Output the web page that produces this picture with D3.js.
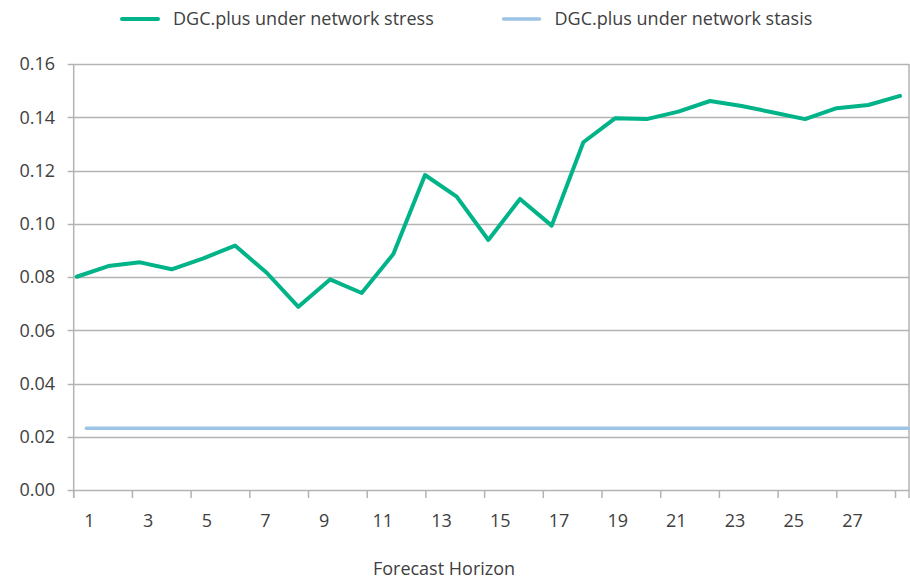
<!DOCTYPE html>
<html>
<head>
<meta charset="utf-8">
<script src="https://cdn.jsdelivr.net/npm/d3@7"></script>
<style>
  body { margin: 0; background: #fff; }
  text { font-family: "Open Sans", sans-serif; fill: #404040; }
</style>
</head>
<body>
<script>
var width = 910;
var height = 581;

// categories on the horizontal axis (the chart is cut at the right edge)
var categories = d3.range(1, 30);
var tickLabels = [1, 3, 5, 7, 9, 11, 13, 15, 17, 19, 21, 23, 25, 27];
var yTicks = [0, 0.02, 0.04, 0.06, 0.08, 0.10, 0.12, 0.14, 0.16];

// series values
var horizon = d3.range(1, 28);
var stress = [0.0801, 0.0841, 0.0855, 0.0829, 0.0870, 0.0918, 0.0816, 0.0688, 0.0791, 0.0740,
              0.0886, 0.1183, 0.1102, 0.0939, 0.1093, 0.0993, 0.1306, 0.1396, 0.1393, 0.1421,
              0.1461, 0.1442, 0.1418, 0.1393, 0.1434, 0.1446, 0.1480];
var stasisValue = 0.0232;
var stasis = categories.map(function () { return stasisValue; });

var seriesNames = ["DGC.plus under network stress", "DGC.plus under network stasis"];
var colors = ["#00b388", "#9dc3e6"];

var plotLeft = 73.7, plotTop = 64, plotBottom = 490, plotRight = 909;
var step = 29.35;
var fontSize = 18;

var svg = d3.select("body").append("svg").attr("width", width).attr("height", height);

var y = d3.scaleLinear().domain([0, 0.16]).range([plotBottom, plotTop]);
var xBand = d3.scaleBand().domain(categories).range([plotLeft, plotLeft + step * categories.length]);
// the stress line sits on its own x scale in the original chart
var xLine = d3.scaleLinear().domain([1, 27]).range([76.7, 900]);

// gridlines
svg.append("g").selectAll("line").data(yTicks).enter().append("line")
    .attr("x1", plotLeft - 6).attr("x2", plotRight)
    .attr("y1", function (d) { return Math.round(y(d)) + 0.5; })
    .attr("y2", function (d) { return Math.round(y(d)) + 0.5; })
    .attr("stroke", "#b3b3b3").attr("stroke-width", 1.5);

// y labels
svg.append("g").selectAll("text").data(yTicks).enter().append("text")
    .attr("x", 55).attr("y", function (d) { return y(d); })
    .attr("dy", "0.36em")
    .attr("text-anchor", "end")
    .attr("font-size", fontSize)
    .text(function (d) { return d3.format(".2f")(d); });

// left and right borders
svg.append("line").attr("x1", plotLeft).attr("x2", plotLeft).attr("y1", plotTop).attr("y2", plotBottom + 8)
    .attr("stroke", "#b3b3b3").attr("stroke-width", 1.5);
svg.append("line").attr("x1", plotRight).attr("x2", plotRight).attr("y1", plotTop).attr("y2", plotBottom + 8)
    .attr("stroke", "#b3b3b3").attr("stroke-width", 1.5);

// x ticks between every second category
var tickCats = categories.filter(function (c) { return c % 2 === 1; });
svg.append("g").selectAll("line").data(tickCats).enter().append("line")
    .attr("x1", function (d) { return xBand(d); })
    .attr("x2", function (d) { return xBand(d); })
    .attr("y1", plotBottom).attr("y2", plotBottom + 8)
    .attr("stroke", "#b3b3b3").attr("stroke-width", 1.5);

svg.append("g").selectAll("text").data(tickLabels).enter().append("text")
    .attr("x", function (d) { return xBand(d) + xBand.bandwidth() / 2 + 1; })
    .attr("y", 527)
    .attr("text-anchor", "middle")
    .attr("font-size", fontSize)
    .text(function (d) { return d; });

svg.append("text").attr("x", 444).attr("y", 575)
    .attr("text-anchor", "middle").attr("font-size", fontSize)
    .text("Forecast Horizon");

// stasis line
svg.append("path").datum(stasis)
    .attr("fill", "none").attr("stroke", colors[1]).attr("stroke-width", 3.5)
    .attr("stroke-linecap", "round")
    .attr("d", d3.line()
        .x(function (d, i) { return xBand(categories[i]) + xBand.bandwidth() / 2 - 2; })
        .y(function (d) { return y(d); }));

// stress line
svg.append("path").datum(stress)
    .attr("fill", "none").attr("stroke", colors[0]).attr("stroke-width", 4)
    .attr("stroke-linejoin", "round").attr("stroke-linecap", "round")
    .attr("d", d3.line()
        .x(function (d, i) { return xLine(horizon[i]); })
        .y(function (d) { return y(d); }));

// legend
var legendX = [122, 503.5];
var legend = svg.append("g").selectAll("g").data(seriesNames).enter().append("g")
    .attr("transform", function (d, i) { return "translate(" + legendX[i] + ",19)"; });
legend.append("line").attr("x1", 0).attr("x2", 36).attr("y1", 0).attr("y2", 0)
    .attr("stroke", function (d, i) { return colors[i]; })
    .attr("stroke-width", function (d, i) { return i === 0 ? 4 : 3.5; })
    .attr("stroke-linecap", "round");
legend.append("text").attr("x", 51).attr("y", 0).attr("dy", "0.36em")
    .attr("font-size", fontSize)
    .text(function (d) { return d; });
</script>
</body>
</html>
